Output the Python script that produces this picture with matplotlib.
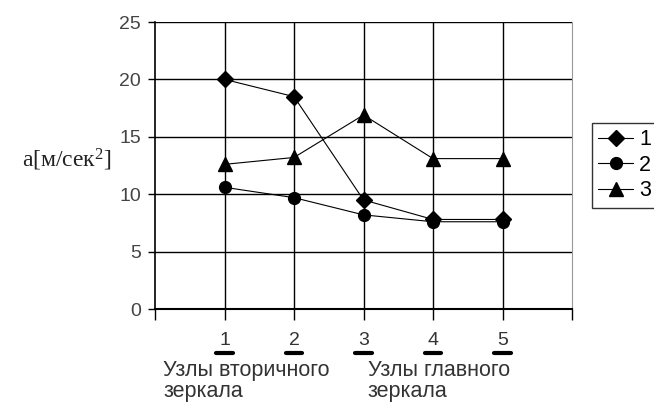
import matplotlib.pyplot as plt
import matplotlib.transforms as mtransforms

plt.rcParams['font.family'] = ['Liberation Sans', 'DejaVu Sans']
plt.rcParams['mathtext.fontset'] = 'custom'
plt.rcParams['mathtext.rm'] = 'Liberation Serif'
plt.rcParams['mathtext.it'] = 'Liberation Serif'

nodes = [1, 2, 3, 4, 5]
series1 = [20.0, 18.5, 9.5, 7.8, 7.8]
series2 = [10.6, 9.7, 8.2, 7.6, 7.6]
series3 = [12.6, 13.2, 16.9, 13.1, 13.1]
names = ["1", "2", "3"]
yticks = [0, 5, 10, 15, 20, 25]

fig = plt.figure(figsize=(6.54, 4.03), dpi=100)
ax = fig.add_axes([155 / 654, 94 / 403, 417 / 654, 287 / 403])

ax.plot(nodes, series1, color="black", lw=0.8, marker="D", ms=8.5, label=names[0])
ax.plot(nodes, series2, color="black", lw=0.8, marker="o", ms=8.5, label=names[1])
ax.plot(nodes, series3, color="black", lw=0.8, marker="^", ms=10, label=names[2])

ax.set_xlim(0, 6)
ax.set_ylim(0, 25)
ax.set_yticks(yticks)
ax.set_xticks(range(0, 7))
ax.set_xticklabels([])
for y in yticks[1:]:
    ax.axhline(y, color="black", lw=1, zorder=0)
for x in nodes:
    ax.axvline(x, color="black", lw=1, zorder=0)

ax.spines["top"].set_visible(False)
ax.spines["right"].set_color("#999999")
ax.spines["left"].set_linewidth(1.2)
ax.spines["bottom"].set_linewidth(1.5)
ax.tick_params(axis="both", direction="out", length=5, width=1, colors="black",
               labelcolor="#444444", labelsize=14, pad=5)
ax.tick_params(axis="x", length=8)

# underlined node numbers
trans = mtransforms.blended_transform_factory(ax.transData, ax.transAxes)
for x in nodes:
    ax.text(x, -0.08, str(x), transform=trans, ha="center", va="top",
            fontsize=14, color="#333333")
    ax.plot([x - 0.12, x + 0.12], [-0.152, -0.152], transform=trans,
            color="black", lw=3, solid_capstyle="round", clip_on=False)

fig.text(163 / 654, 1 - 360 / 403, "Узлы вторичного\nзеркала", fontsize=15.5,
         color="#333333", va="top", ha="left", linespacing=1.0)
fig.text(368 / 654, 1 - 360 / 403, "Узлы главного\nзеркала", fontsize=15.5,
         color="#333333", va="top", ha="left", linespacing=1.0)

fig.text(22 / 654, 1 - 160 / 403, "a[м/сек$^{2}$]", fontsize=17,
         family="Liberation Serif", va="center", ha="left", color="#222222")

leg = ax.legend(loc="upper left", bbox_to_anchor=(592 / 654, 1 - 123 / 403),
                bbox_transform=fig.transFigure, frameon=True, fancybox=False,
                fontsize=15.5, handlelength=1.6, handletextpad=0.3,
                borderpad=0.3, labelspacing=0.2, borderaxespad=0)
leg.get_frame().set_edgecolor("black")
leg.get_frame().set_linewidth(1)

fig.savefig("out.png", dpi=100)
